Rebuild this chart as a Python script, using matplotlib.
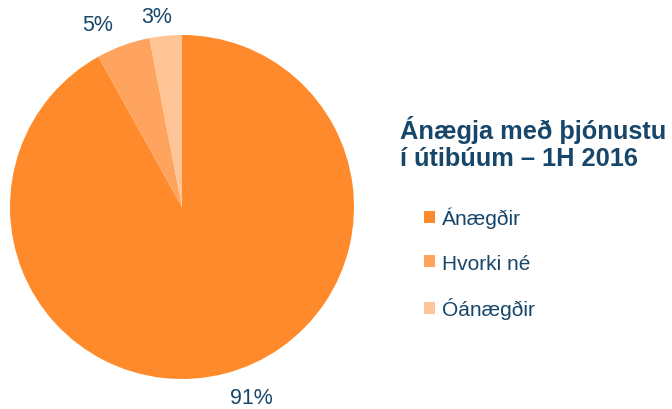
import matplotlib.pyplot as plt

# data
categories = ['Ánægðir', 'Hvorki né', 'Óánægðir']
values = [91, 5, 3]
pct_labels = ['91%', '5%', '3%']
colors = ['#FF8A2B', '#FFA45F', '#FFC596']
text_color = '#17466B'

plt.rcParams['font.family'] = ['Liberation Sans', 'DejaVu Sans']

fig = plt.figure(figsize=(6.72, 4.10), dpi=100)

# pie axes, square, placed on the left
ax = fig.add_axes([10 / 672, 30 / 410, 344 / 672, 344 / 410])
wedges, texts = ax.pie(values, labels=pct_labels, colors=colors,
                       startangle=90, counterclock=False,
                       labeldistance=1.16,
                       wedgeprops=dict(linewidth=0),
                       textprops=dict(color=text_color, fontsize=15.5))
# nudge labels (pixels) to sit like the original
nudges = [(19, 3), (-16, -5), (-6, -8)]
for t, (dx, dy) in zip(texts, nudges):
    t.set_ha('center')
    t.set_va('center')
    x, y = t.get_position()
    t.set_position((x + dx / 172, y + dy / 172))
ax.set_xlim(-1, 1)
ax.set_ylim(-1, 1)
ax.set_aspect('equal')

# title
fig.text(400 / 672, 1 - 166 / 410, 'Ánægja með þjónustu\ní útibúum – 1H 2016',
         color=text_color, fontsize=18.3, fontweight='bold',
         ha='left', va='baseline', linespacing=1.15)

# legend
leg = fig.legend(wedges, categories, loc='upper left',
                 bbox_to_anchor=(424 / 672, 1 - 208 / 410),
                 frameon=False, fontsize=15,
                 handlelength=0.55, handleheight=0.55,
                 handletextpad=0.3, labelspacing=1.2,
                 borderpad=0, borderaxespad=0)
for t in leg.get_texts():
    t.set_color(text_color)

plt.savefig('out.png', dpi=100)
